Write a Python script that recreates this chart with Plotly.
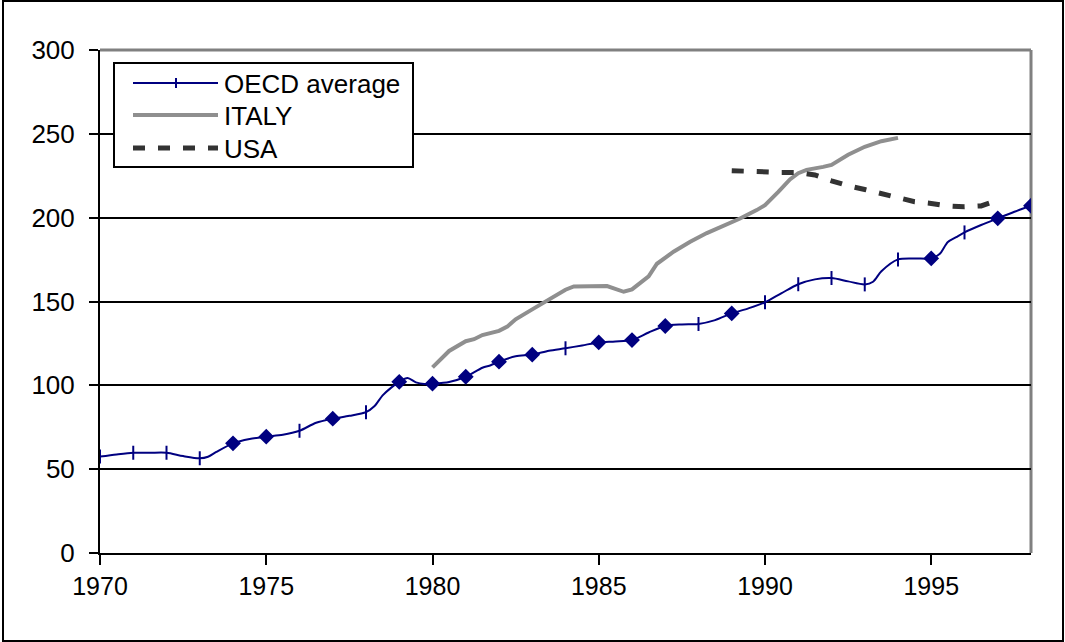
import plotly.graph_objects as go

# ---------------- data ----------------
oecd_x = [1970.0, 1970.5, 1971.0, 1971.5, 1972.0, 1972.5, 1973.0, 1973.25, 1973.5, 1974.0,
          1974.5, 1975.0, 1975.5, 1976.0, 1976.5, 1977.0, 1977.5, 1978.0, 1978.25, 1978.5,
          1978.75, 1979.0, 1979.25, 1979.5, 1979.75, 1980.0, 1980.5, 1981.0, 1981.5, 1981.75,
          1982.0, 1982.5, 1983.0, 1983.5, 1984.0, 1984.5, 1985.0, 1985.5, 1986.0, 1986.5,
          1987.0, 1987.5, 1988.0, 1988.5, 1989.0, 1989.5, 1990.0, 1990.5, 1991.0, 1991.5,
          1992.0, 1992.5, 1993.0, 1993.25, 1993.5, 1994.0, 1994.5, 1995.0, 1995.25, 1995.5,
          1995.75, 1996.0, 1996.5, 1997.0, 1997.5, 1998.0]
oecd_y = [57.5, 58.8, 59.8, 59.8, 59.8, 57.8, 56.5, 57.4, 60.3, 65.4,
          68.0, 69.4, 70.5, 72.9, 77.7, 80.1, 81.8, 84.0, 87.5, 94.0,
          98.5, 102.1, 104.3, 101.8, 100.8, 101.0, 102.0, 105.1, 110.5, 112.0,
          114.1, 117.3, 118.3, 120.6, 122.1, 123.8, 125.6, 126.1, 127.0, 131.5,
          135.4, 136.3, 136.6, 138.9, 142.9, 145.9, 149.5, 155.0, 160.3, 163.2,
          164.0, 162.0, 160.2, 161.8, 168.0, 175.1, 175.7, 175.7, 178.3, 185.5,
          188.4, 191.2, 195.6, 199.6, 203.5, 207.1]
# marker shown at each whole year: "d" = diamond, "t" = vertical tick
oecd_marker_years = list(range(1970, 1999))
oecd_marker_kind = ["t", "t", "t", "t", "d", "d", "t", "d", "t", "d",
                    "d", "d", "d", "d", "t", "d", "d", "d", "t", "d",
                    "t", "t", "t", "t", "t", "d", "t", "d", "d"]

italy_x = [1980.0, 1980.5, 1981.0, 1981.25, 1981.5, 1982.0, 1982.25, 1982.5, 1983.0, 1983.5,
           1984.0, 1984.25, 1985.25, 1985.75, 1986.0, 1986.5, 1986.75, 1987.25, 1987.75, 1988.25,
           1988.75, 1989.25, 1989.75, 1990.0, 1990.4, 1990.75, 1991.0, 1991.25, 1991.75, 1992.0,
           1992.5, 1993.0, 1993.5, 1994.0]
italy_y = [110.7, 120.5, 126.3, 127.5, 130.0, 132.5, 135.0, 139.4, 145.3, 151.0,
           157.0, 159.0, 159.2, 155.8, 157.2, 165.0, 172.5, 179.7, 185.6, 190.8,
           195.0, 199.5, 204.5, 207.5, 215.4, 222.8, 226.5, 228.5, 230.3, 231.5,
           237.5, 242.3, 245.6, 247.6]

usa_x = [1989.0, 1989.5, 1990.0, 1990.5, 1991.0, 1991.5, 1992.0, 1992.5, 1993.0, 1993.5,
         1994.0, 1994.5, 1995.0, 1995.5, 1996.0, 1996.5, 1996.8]
usa_y = [228.0, 227.5, 227.0, 227.0, 227.0, 225.5, 222.0, 219.0, 216.8, 214.5,
         212.0, 209.5, 208.5, 207.0, 206.5, 207.0, 209.0]

x_ticks = [1970, 1975, 1980, 1985, 1990, 1995]
y_ticks = [0, 50, 100, 150, 200, 250, 300]
series_names = ["OECD average", "ITALY", "USA"]

# ---------------- styling ----------------
NAVY = "#000080"
GRAY = "#8f8f8f"
DARK = "#333333"
CLEAR = "rgba(0,0,0,0)"
FONT = "Arial, 'Liberation Sans', sans-serif"
USA_DASH = "12px,13px"

symbols, fills, edges = [], [], []
kind_by_year = dict(zip(oecd_marker_years, oecd_marker_kind))
for xv in oecd_x:
    k = kind_by_year.get(xv) if float(xv).is_integer() else None
    if k is None:
        symbols.append("line-ns"); fills.append(CLEAR); edges.append(CLEAR)
    elif k == "d":
        symbols.append("diamond"); fills.append(NAVY); edges.append(NAVY)
    else:
        symbols.append("line-ns"); fills.append(NAVY); edges.append(NAVY)

fig = go.Figure()
fig.add_trace(go.Scatter(
    x=oecd_x, y=oecd_y, name=series_names[0], mode="lines+markers",
    line=dict(color=NAVY, width=2, shape="spline", smoothing=0.8),
    marker=dict(symbol=symbols, size=10, color=fills,
                line=dict(color=edges, width=2)),
    showlegend=False,
))
fig.add_trace(go.Scatter(
    x=italy_x, y=italy_y, name=series_names[1], mode="lines",
    line=dict(color=GRAY, width=4), showlegend=False,
))
fig.add_trace(go.Scatter(
    x=usa_x, y=usa_y, name=series_names[2], mode="lines",
    line=dict(color=DARK, width=5, dash=USA_DASH), showlegend=False,
))

# ---------------- legend box (drawn in paper coordinates) ----------------
PX_L, PX_W, PX_B, PX_H = 100, 931, 553, 503   # plot-area pixel geometry
def px(xp):
    return (xp - PX_L) / PX_W
def py(yp):
    return (PX_B - yp) / PX_H

shapes = [
    # gray top and right frame of the plot area
    dict(type="line", xref="paper", yref="paper", x0=0, x1=1, y0=1, y1=1,
         line=dict(color="#808080", width=3), layer="between"),
    dict(type="line", xref="paper", yref="paper", x0=1, x1=1, y0=0, y1=1,
         line=dict(color="#808080", width=3), layer="between"),
    # outer chart border
    dict(type="rect", xref="paper", yref="paper",
         x0=px(3), x1=px(1063), y0=py(641), y1=py(1),
         line=dict(color="black", width=2), fillcolor=CLEAR, layer="below"),
    # legend frame
    dict(type="rect", xref="paper", yref="paper",
         x0=px(114), x1=px(413), y0=py(167), y1=py(63),
         line=dict(color="black", width=2), fillcolor="white", layer="above"),
]
row_y = [83, 115, 148]
sample_styles = [dict(color=NAVY, width=2), dict(color=GRAY, width=4),
                 dict(color=DARK, width=5, dash=USA_DASH)]
annotations = []
for name, ry, st in zip(series_names, row_y, sample_styles):
    shapes.append(dict(type="line", xref="paper", yref="paper",
                       x0=px(133), x1=px(218), y0=py(ry), y1=py(ry),
                       line=st, layer="above"))
    annotations.append(dict(text=name, xref="paper", yref="paper",
                            x=px(222), y=py(ry + 1), xanchor="left", yanchor="middle",
                            showarrow=False, font=dict(family=FONT, size=26, color="black")))
# tick marker on the OECD legend sample
shapes.append(dict(type="line", xref="paper", yref="paper",
                   x0=px(176), x1=px(176), y0=py(row_y[0] - 5), y1=py(row_y[0] + 5),
                   line=dict(color=NAVY, width=2), layer="above"))

fig.update_layout(
    width=1065, height=642,
    margin=dict(l=100, r=34, t=50, b=89),
    paper_bgcolor="white", plot_bgcolor="white",
    font=dict(family=FONT, size=25, color="black"),
    showlegend=False,
    xaxis=dict(
        range=[1970, 1998], tickvals=x_ticks, ticktext=[str(v) for v in x_ticks],
        showgrid=False, zeroline=False,
        showline=True, linecolor="black", linewidth=2,
        ticks="outside", ticklen=10, tickwidth=2, tickcolor="black",
        tickfont=dict(family=FONT, size=25, color="black"),
    ),
    yaxis=dict(
        range=[0, 300], tickvals=y_ticks, ticktext=[str(v) for v in y_ticks],
        showgrid=True, gridcolor="black", gridwidth=1.5, zeroline=False,
        showline=True, linecolor="black", linewidth=2,
        ticks="outside", ticklen=9, tickwidth=2, tickcolor="black",
        ticklabelstandoff=9,
        tickfont=dict(family=FONT, size=26, color="black"),
    ),
    shapes=shapes,
    annotations=annotations,
)

fig.write_html("out.html")
